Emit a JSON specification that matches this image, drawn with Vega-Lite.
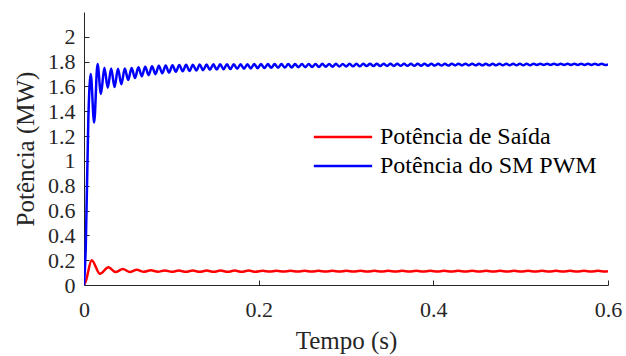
{
  "$schema": "https://vega.github.io/schema/vega-lite/v6.json",
  "width": 524,
  "height": 273,
  "autosize": {"type": "none"},
  "padding": {"left": 84, "top": 12, "right": 18, "bottom": 71},
  "background": "white",
  "config": {
    "view": {"stroke": null},
    "font": "Liberation Serif",
    "axis": {
      "grid": false,
      "domainColor": "#262626",
      "domainWidth": 1,
      "tickColor": "#262626",
      "tickWidth": 1,
      "tickSize": -5,
      "labelFlush": false,
      "labelFont": "Liberation Serif",
      "labelFontSize": 22,
      "labelColor": "#262626",
      "titleFont": "Liberation Serif",
      "titleFontSize": 25,
      "titleFontWeight": "normal",
      "titleColor": "#262626"
    },
    "legend": {
      "orient": "none",
      "legendX": 247,
      "legendY": 113,
      "padding": 0,
      "rowPadding": 5,
      "symbolType": "M-5,0H5",
      "symbolSize": 136,
      "symbolStrokeWidth": 2.5,
      "labelFont": "Liberation Serif",
      "labelFontSize": 24,
      "labelColor": "#000000",
      "labelOffset": 25,
      "labelLimit": 0,
      "title": null
    }
  },
  "datasets": {
    "blue": [
      {"t": 0, "p": 0}, {"t": 0.002, "p": 0.3}, {"t": 0.005, "p": 1.35},
      {"t": 0.0077, "p": 1.70}, {"t": 0.0116, "p": 1.31}, {"t": 0.0155, "p": 1.78}, {"t": 0.0194, "p": 1.54},
      {"t": 0.0233, "p": 1.75}, {"t": 0.0272, "p": 1.59}, {"t": 0.0311, "p": 1.745}, {"t": 0.035, "p": 1.595},
      {"t": 0.0389, "p": 1.743}, {"t": 0.0428, "p": 1.618}, {"t": 0.0467, "p": 1.745}, {"t": 0.0506, "p": 1.652},
      {"t": 0.0545, "p": 1.749}, {"t": 0.0584, "p": 1.668}, {"t": 0.0623, "p": 1.755}, {"t": 0.0662, "p": 1.682},
      {"t": 0.0701, "p": 1.759}, {"t": 0.074, "p": 1.691}, {"t": 0.0779, "p": 1.763}, {"t": 0.0818, "p": 1.699},
      {"t": 0.0857, "p": 1.767}, {"t": 0.0896, "p": 1.706}, {"t": 0.0935, "p": 1.769}, {"t": 0.0974, "p": 1.712},
      {"t": 0.1013, "p": 1.771}, {"t": 0.1052, "p": 1.718}, {"t": 0.1091, "p": 1.773}, {"t": 0.113, "p": 1.722},
      {"t": 0.1169, "p": 1.774}, {"t": 0.1208, "p": 1.725}, {"t": 0.1247, "p": 1.775}, {"t": 0.1286, "p": 1.728},
      {"t": 0.1325, "p": 1.776}, {"t": 0.1364, "p": 1.731}, {"t": 0.1403, "p": 1.777}, {"t": 0.1442, "p": 1.734},
      {"t": 0.1481, "p": 1.778}, {"t": 0.152, "p": 1.736}, {"t": 0.1559, "p": 1.778}, {"t": 0.1598, "p": 1.738},
      {"t": 0.1637, "p": 1.779}, {"t": 0.1676, "p": 1.740}, {"t": 0.1715, "p": 1.779}, {"t": 0.1754, "p": 1.742},
      {"t": 0.1793, "p": 1.779}, {"t": 0.1832, "p": 1.743}, {"t": 0.1871, "p": 1.779}, {"t": 0.191, "p": 1.745},
      {"t": 0.1949, "p": 1.780}, {"t": 0.1988, "p": 1.747}, {"t": 0.2027, "p": 1.780}, {"t": 0.2066, "p": 1.748},
      {"t": 0.2105, "p": 1.780}, {"t": 0.2144, "p": 1.750}, {"t": 0.2183, "p": 1.780}, {"t": 0.2222, "p": 1.751},
      {"t": 0.2261, "p": 1.780}, {"t": 0.23, "p": 1.752}, {"t": 0.2339, "p": 1.781}, {"t": 0.2378, "p": 1.753},
      {"t": 0.2417, "p": 1.780}, {"t": 0.2456, "p": 1.755}, {"t": 0.2495, "p": 1.781}, {"t": 0.2534, "p": 1.755},
      {"t": 0.2573, "p": 1.781}, {"t": 0.2612, "p": 1.757}, {"t": 0.2651, "p": 1.781}, {"t": 0.269, "p": 1.757},
      {"t": 0.2729, "p": 1.782}, {"t": 0.2768, "p": 1.759}, {"t": 0.2807, "p": 1.781}, {"t": 0.2846, "p": 1.759},
      {"t": 0.2885, "p": 1.782}, {"t": 0.2924, "p": 1.760}, {"t": 0.2963, "p": 1.781}, {"t": 0.3002, "p": 1.761},
      {"t": 0.3041, "p": 1.782}, {"t": 0.308, "p": 1.762}, {"t": 0.3119, "p": 1.782}, {"t": 0.3158, "p": 1.762},
      {"t": 0.3197, "p": 1.782}, {"t": 0.3236, "p": 1.764}, {"t": 0.3275, "p": 1.782}, {"t": 0.3314, "p": 1.764},
      {"t": 0.3353, "p": 1.782}, {"t": 0.3392, "p": 1.764}, {"t": 0.3431, "p": 1.783}, {"t": 0.347, "p": 1.765},
      {"t": 0.3509, "p": 1.783}, {"t": 0.3548, "p": 1.765}, {"t": 0.3587, "p": 1.783}, {"t": 0.3626, "p": 1.766},
      {"t": 0.3665, "p": 1.782}, {"t": 0.3704, "p": 1.766}, {"t": 0.3743, "p": 1.782}, {"t": 0.3782, "p": 1.766},
      {"t": 0.3821, "p": 1.783}, {"t": 0.386, "p": 1.767}, {"t": 0.3899, "p": 1.783}, {"t": 0.3938, "p": 1.767},
      {"t": 0.3977, "p": 1.783}, {"t": 0.4016, "p": 1.768}, {"t": 0.4055, "p": 1.782}, {"t": 0.4094, "p": 1.768},
      {"t": 0.4133, "p": 1.782}, {"t": 0.4172, "p": 1.768}, {"t": 0.4211, "p": 1.783}, {"t": 0.425, "p": 1.769},
      {"t": 0.4289, "p": 1.783}, {"t": 0.4328, "p": 1.769}, {"t": 0.4367, "p": 1.783}, {"t": 0.4406, "p": 1.769},
      {"t": 0.4445, "p": 1.783}, {"t": 0.4484, "p": 1.770}, {"t": 0.4523, "p": 1.782}, {"t": 0.4562, "p": 1.770},
      {"t": 0.4601, "p": 1.782}, {"t": 0.464, "p": 1.770}, {"t": 0.4679, "p": 1.782}, {"t": 0.4718, "p": 1.770},
      {"t": 0.4757, "p": 1.783}, {"t": 0.4796, "p": 1.771}, {"t": 0.4835, "p": 1.783}, {"t": 0.4874, "p": 1.771},
      {"t": 0.4913, "p": 1.783}, {"t": 0.4952, "p": 1.771}, {"t": 0.4991, "p": 1.783}, {"t": 0.503, "p": 1.771},
      {"t": 0.5069, "p": 1.783}, {"t": 0.5108, "p": 1.771}, {"t": 0.5147, "p": 1.783}, {"t": 0.5186, "p": 1.773},
      {"t": 0.5225, "p": 1.783}, {"t": 0.5264, "p": 1.773}, {"t": 0.5303, "p": 1.783}, {"t": 0.5342, "p": 1.773},
      {"t": 0.5381, "p": 1.783}, {"t": 0.542, "p": 1.773}, {"t": 0.5459, "p": 1.783}, {"t": 0.5498, "p": 1.773},
      {"t": 0.5537, "p": 1.783}, {"t": 0.5576, "p": 1.773}, {"t": 0.5615, "p": 1.783}, {"t": 0.5654, "p": 1.773},
      {"t": 0.5693, "p": 1.783}, {"t": 0.5732, "p": 1.773}, {"t": 0.5771, "p": 1.783}, {"t": 0.581, "p": 1.773},
      {"t": 0.5849, "p": 1.783}, {"t": 0.5888, "p": 1.773}, {"t": 0.5927, "p": 1.783}, {"t": 0.5966, "p": 1.773},
      {"t": 0.6, "p": 1.778}
    ],
    "red": [
      {"t": 0, "p": 0}, {"t": 0.002, "p": 0.03}, {"t": 0.0088, "p": 0.200}, {"t": 0.0183, "p": 0.090},
      {"t": 0.028, "p": 0.143}, {"t": 0.036, "p": 0.104}, {"t": 0.0445, "p": 0.128}, {"t": 0.0525, "p": 0.105},
      {"t": 0.0605, "p": 0.122}, {"t": 0.0685, "p": 0.106}, {"t": 0.0765, "p": 0.119}, {"t": 0.0845, "p": 0.107},
      {"t": 0.0925, "p": 0.117}, {"t": 0.1005, "p": 0.107}, {"t": 0.1085, "p": 0.116}, {"t": 0.1165, "p": 0.107},
      {"t": 0.1245, "p": 0.116}, {"t": 0.1325, "p": 0.107}, {"t": 0.1405, "p": 0.116}, {"t": 0.1485, "p": 0.107},
      {"t": 0.1565, "p": 0.116}, {"t": 0.1645, "p": 0.107}, {"t": 0.1725, "p": 0.116}, {"t": 0.1805, "p": 0.107},
      {"t": 0.1885, "p": 0.116}, {"t": 0.1965, "p": 0.107}, {"t": 0.2045, "p": 0.115}, {"t": 0.2125, "p": 0.108},
      {"t": 0.2205, "p": 0.115}, {"t": 0.2285, "p": 0.108}, {"t": 0.2365, "p": 0.115}, {"t": 0.2445, "p": 0.108},
      {"t": 0.2525, "p": 0.115}, {"t": 0.2605, "p": 0.108}, {"t": 0.2685, "p": 0.115}, {"t": 0.2765, "p": 0.108},
      {"t": 0.2845, "p": 0.115}, {"t": 0.2925, "p": 0.108}, {"t": 0.3005, "p": 0.115}, {"t": 0.3085, "p": 0.108},
      {"t": 0.3165, "p": 0.115}, {"t": 0.3245, "p": 0.108}, {"t": 0.3325, "p": 0.115}, {"t": 0.3405, "p": 0.108},
      {"t": 0.3485, "p": 0.114}, {"t": 0.3565, "p": 0.108}, {"t": 0.3645, "p": 0.114}, {"t": 0.3725, "p": 0.108},
      {"t": 0.3805, "p": 0.114}, {"t": 0.3885, "p": 0.108}, {"t": 0.3965, "p": 0.114}, {"t": 0.4045, "p": 0.108},
      {"t": 0.4125, "p": 0.114}, {"t": 0.4205, "p": 0.108}, {"t": 0.4285, "p": 0.114}, {"t": 0.4365, "p": 0.108},
      {"t": 0.4445, "p": 0.114}, {"t": 0.4525, "p": 0.108}, {"t": 0.4605, "p": 0.114}, {"t": 0.4685, "p": 0.108},
      {"t": 0.4765, "p": 0.114}, {"t": 0.4845, "p": 0.108}, {"t": 0.4925, "p": 0.114}, {"t": 0.5005, "p": 0.108},
      {"t": 0.5085, "p": 0.114}, {"t": 0.5165, "p": 0.108}, {"t": 0.5245, "p": 0.114}, {"t": 0.5325, "p": 0.108},
      {"t": 0.5405, "p": 0.114}, {"t": 0.5485, "p": 0.108}, {"t": 0.5565, "p": 0.114}, {"t": 0.5645, "p": 0.108},
      {"t": 0.5725, "p": 0.114}, {"t": 0.5805, "p": 0.108}, {"t": 0.5885, "p": 0.114}, {"t": 0.5965, "p": 0.108},
      {"t": 0.6, "p": 0.111}
    ]
  },
  "encoding": {
    "x": {
      "field": "t", "type": "quantitative",
      "scale": {"domain": [0, 0.6], "nice": false},
      "axis": {"title": "Tempo (s)", "values": [0, 0.2, 0.4, 0.6], "format": "~g", "labelPadding": 19, "titlePadding": 8}
    },
    "y": {
      "field": "p", "type": "quantitative",
      "scale": {"domain": [0, 2.2], "nice": false},
      "axis": {"title": "Potência (MW)", "values": [0, 0.2, 0.4, 0.6, 0.8, 1, 1.2, 1.4, 1.6, 1.8, 2], "format": "~g", "labelPadding": 14, "titlePadding": 9}
    }
  },
  "layer": [
    {
      "data": {"name": "red"},
      "mark": {"type": "line", "interpolate": "monotone", "strokeWidth": 2.5, "clip": true},
      "encoding": {
        "color": {
          "datum": "Potência de Saída",
          "type": "nominal",
          "scale": {"domain": ["Potência de Saída", "Potência do SM PWM"], "range": ["#ff0000", "#0000ff"]}
        }
      }
    },
    {
      "data": {"name": "blue"},
      "mark": {"type": "line", "interpolate": "monotone", "strokeWidth": 2.5, "clip": true},
      "encoding": {
        "color": {"datum": "Potência do SM PWM", "type": "nominal"}
      }
    }
  ]
}
